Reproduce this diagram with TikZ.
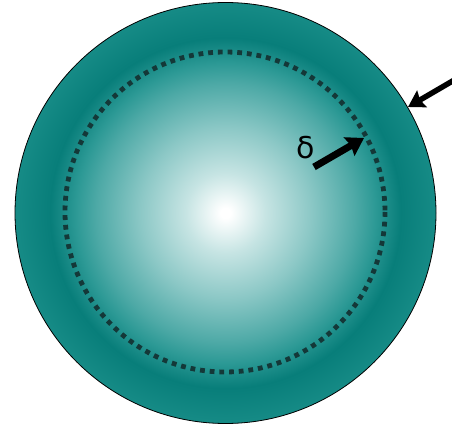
\documentclass[tikz,border=0pt]{standalone}
\usepackage{fontspec}
\newfontfamily\symfont{DejaVu Sans}
\usetikzlibrary{arrows.meta}
\definecolor{tealdark}{HTML}{087E7A}
\definecolor{tealedge}{HTML}{168B86}
\definecolor{tA}{HTML}{C6E4E3}
\definecolor{tB}{HTML}{8CC8C6}
\definecolor{tC}{HTML}{4DA9A6}
\definecolor{tD}{HTML}{2C9995}
\definecolor{dotcol}{HTML}{143838}
\pgfdeclareradialshading{ringshade}{\pgfpoint{0bp}{0bp}}{color(0bp)=(white); color(0.6bp)=(white); color(4.75bp)=(tA); color(10.1bp)=(tB); color(15.4bp)=(tC); color(17.8bp)=(tD); color(20.8bp)=(tealdark); color(25bp)=(tealedge); color(50bp)=(tealedge)}
\tikzset{
  bigarrow/.style={line width=7pt, -{Stealth[length=17pt,width=21pt,inset=2pt]}},
  smallarrow/.style={line width=5.5pt, -{Stealth[length=16pt,width=19pt,inset=2pt]}},
  dotring/.style={draw=dotcol, line width=4.8pt, dash pattern=on 4.8pt off 4.9pt}
}
\begin{document}
\begin{tikzpicture}[x=1pt,y=-1pt]
\useasboundingbox (0,0) rectangle (452,425);
\coordinate (c) at (225.5,213);
\shade[shading=ringshade, draw=black, line width=0.8pt] (c) circle[radius=210.5];
\draw[dotring] (225,212) circle[radius=160];
\coordinate (d0) at (314,167);
\coordinate (d1) at (364,138);
\coordinate (e0) at (456,79);
\coordinate (e1) at (408,107);
\draw[bigarrow] (d0) -- (d1);
\draw[smallarrow] (e0) -- (e1);
\node[font=\symfont\fontsize{30}{33}\selectfont, inner sep=0pt] (delta) at (306,148) {δ};
\end{tikzpicture}
\end{document}
